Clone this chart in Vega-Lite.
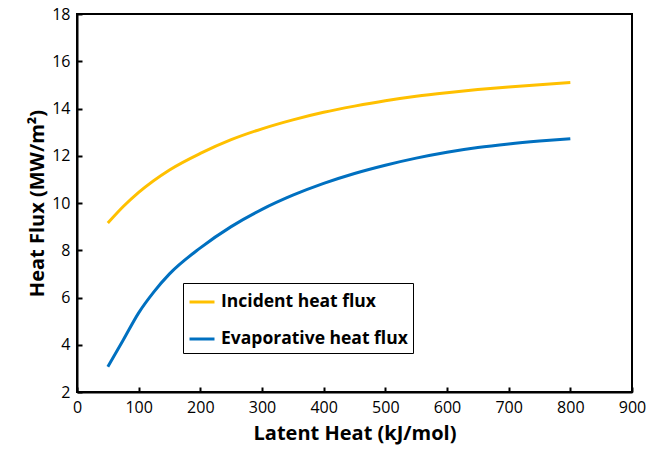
{
  "$schema": "https://vega.github.io/schema/vega-lite/v6.json",
  "autosize": "none",
  "width": 555,
  "height": 378,
  "padding": {"left": 77, "top": 14, "right": 32, "bottom": 58},
  "background": "white",
  "config": {
    "font": "Open Sans",
    "view": {"stroke": "black", "strokeWidth": 2},
    "axis": {
      "domainColor": "black",
      "domainWidth": 2,
      "tickColor": "black",
      "tickWidth": 2,
      "tickSize": -5,
      "grid": false,
      "labelFont": "Open Sans",
      "labelFontSize": 16,
      "labelColor": "black",
      "titleFont": "Open Sans",
      "titleFontSize": 20,
      "titleFontWeight": "bold",
      "titleColor": "black"
    }
  },
  "data": {
    "values": [
      {"latent": 50, "flux": 9.15, "series": "Incident heat flux"},
      {"latent": 75, "flux": 9.85, "series": "Incident heat flux"},
      {"latent": 100, "flux": 10.45, "series": "Incident heat flux"},
      {"latent": 150, "flux": 11.4, "series": "Incident heat flux"},
      {"latent": 200, "flux": 12.1, "series": "Incident heat flux"},
      {"latent": 250, "flux": 12.68, "series": "Incident heat flux"},
      {"latent": 300, "flux": 13.14, "series": "Incident heat flux"},
      {"latent": 350, "flux": 13.52, "series": "Incident heat flux"},
      {"latent": 400, "flux": 13.84, "series": "Incident heat flux"},
      {"latent": 450, "flux": 14.1, "series": "Incident heat flux"},
      {"latent": 500, "flux": 14.33, "series": "Incident heat flux"},
      {"latent": 550, "flux": 14.52, "series": "Incident heat flux"},
      {"latent": 600, "flux": 14.67, "series": "Incident heat flux"},
      {"latent": 650, "flux": 14.8, "series": "Incident heat flux"},
      {"latent": 700, "flux": 14.91, "series": "Incident heat flux"},
      {"latent": 750, "flux": 15.01, "series": "Incident heat flux"},
      {"latent": 800, "flux": 15.1, "series": "Incident heat flux"},
      {"latent": 50, "flux": 3.07, "series": "Evaporative heat flux"},
      {"latent": 75, "flux": 4.2, "series": "Evaporative heat flux"},
      {"latent": 100, "flux": 5.35, "series": "Evaporative heat flux"},
      {"latent": 125, "flux": 6.25, "series": "Evaporative heat flux"},
      {"latent": 150, "flux": 7.0, "series": "Evaporative heat flux"},
      {"latent": 200, "flux": 8.1, "series": "Evaporative heat flux"},
      {"latent": 250, "flux": 9.0, "series": "Evaporative heat flux"},
      {"latent": 300, "flux": 9.73, "series": "Evaporative heat flux"},
      {"latent": 350, "flux": 10.33, "series": "Evaporative heat flux"},
      {"latent": 400, "flux": 10.83, "series": "Evaporative heat flux"},
      {"latent": 450, "flux": 11.25, "series": "Evaporative heat flux"},
      {"latent": 500, "flux": 11.6, "series": "Evaporative heat flux"},
      {"latent": 550, "flux": 11.9, "series": "Evaporative heat flux"},
      {"latent": 600, "flux": 12.15, "series": "Evaporative heat flux"},
      {"latent": 650, "flux": 12.35, "series": "Evaporative heat flux"},
      {"latent": 700, "flux": 12.5, "series": "Evaporative heat flux"},
      {"latent": 750, "flux": 12.62, "series": "Evaporative heat flux"},
      {"latent": 800, "flux": 12.72, "series": "Evaporative heat flux"}
    ]
  },
  "mark": {"type": "line", "strokeWidth": 3, "interpolate": "monotone"},
  "encoding": {
    "x": {
      "field": "latent",
      "type": "quantitative",
      "scale": {"domain": [0, 900], "nice": false},
      "axis": {"title": "Latent Heat (kJ/mol)", "values": [0, 100, 200, 300, 400, 500, 600, 700, 800, 900], "labelPadding": 12, "titlePadding": 8, "labelFlush": false}
    },
    "y": {
      "field": "flux",
      "type": "quantitative",
      "scale": {"domain": [2, 18], "nice": false, "zero": false},
      "axis": {"title": "Heat Flux (MW/m²)", "values": [2, 4, 6, 8, 10, 12, 14, 16, 18], "labelPadding": 12, "titlePadding": 4, "labelFlush": false}
    },
    "color": {
      "field": "series",
      "type": "nominal",
      "scale": {"domain": ["Incident heat flux", "Evaporative heat flux"], "range": ["#FFC000", "#0070C0"]},
      "legend": {
        "title": null,
        "orient": "none",
        "legendX": 106,
        "legendY": 269,
        "symbolType": "stroke",
        "symbolSize": 625,
        "symbolStrokeWidth": 3,
        "labelFont": "Open Sans",
        "labelFontSize": 17.5,
        "labelFontWeight": "bold",
        "labelColor": "black",
        "labelLimit": 0,
        "labelOffset": 5,
        "rowPadding": 14,
        "padding": 5,
        "strokeColor": "black",
        "fillColor": "white"
      }
    }
  }
}
